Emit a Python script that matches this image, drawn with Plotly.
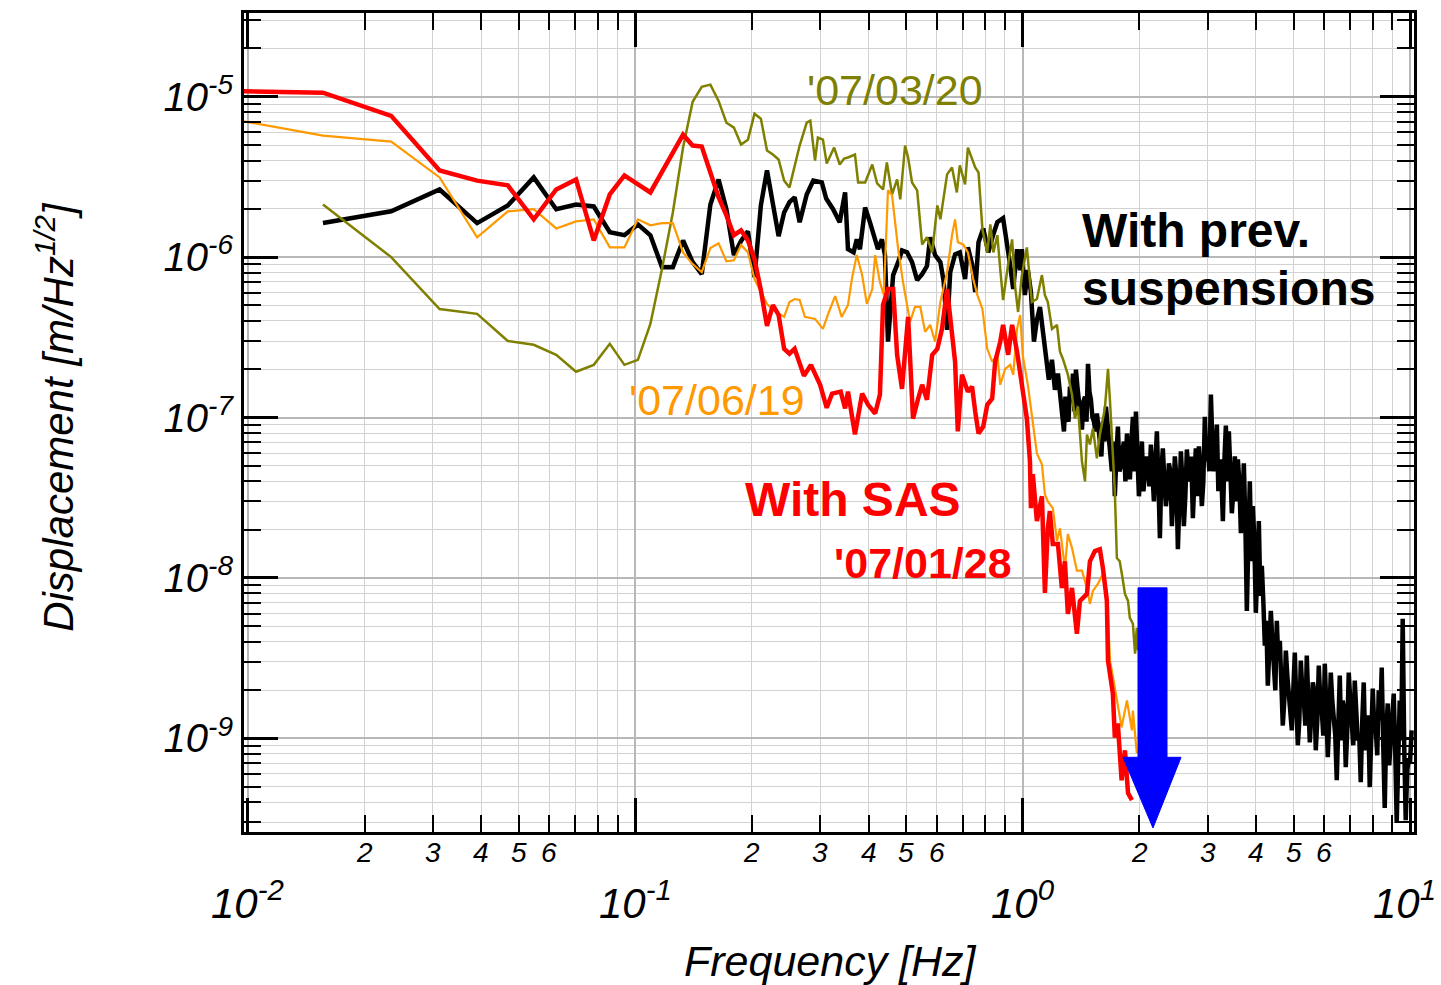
import math
import plotly.graph_objects as go

# ---------------- data ----------------
red_freq = [0.0078125, 0.015625, 0.0234375, 0.03125, 0.0390625, 0.046875, 0.0546875, 0.0625, 0.0703125, 0.078125,
            0.0859375, 0.09375, 0.109375, 0.1328125, 0.140625, 0.1484375, 0.15625, 0.1640625, 0.171875, 0.1796875,
            0.1875, 0.1953125, 0.203125, 0.2109375, 0.21875, 0.2265625, 0.234375, 0.2421875, 0.25, 0.2578125,
            0.2725, 0.284, 0.300, 0.312, 0.322, 0.339, 0.348, 0.354, 0.369, 0.385,
            0.399, 0.416, 0.428, 0.436, 0.449, 0.463, 0.474, 0.488, 0.506, 0.521,
            0.537, 0.550, 0.566, 0.584, 0.602, 0.619, 0.638, 0.657, 0.669, 0.680,
            0.697, 0.722, 0.740, 0.754, 0.769, 0.791, 0.810, 0.834, 0.849, 0.875,
            0.890, 0.917, 0.939, 0.967, 0.985, 1.000, 1.025, 1.044, 1.050, 1.062,
            1.088, 1.121, 1.141, 1.161, 1.175, 1.196, 1.233, 1.262, 1.285, 1.308,
            1.340, 1.380, 1.405, 1.465, 1.491, 1.536, 1.582, 1.611, 1.649, 1.660,
            1.709, 1.729, 1.760, 1.800, 1.836, 1.870, 1.914]
red_disp = [1.09e-5, 1.06e-5, 7.6e-6, 3.47e-6, 3.0e-6, 2.80e-6, 1.72e-6, 2.64e-6, 3.05e-6, 1.27e-6,
            2.46e-6, 3.23e-6, 2.53e-6, 5.80e-6, 4.96e-6, 4.89e-6, 3.37e-6, 2.36e-6, 1.82e-6, 1.37e-6,
            1.47e-6, 1.27e-6, 9.72e-7, 6.23e-7, 3.73e-7, 5.03e-7, 4.36e-7, 2.68e-7, 2.50e-7, 2.68e-7,
            1.82e-7, 2.13e-7, 1.60e-7, 1.15e-7, 1.41e-7, 1.45e-7, 1.14e-7, 1.45e-7, 7.84e-8, 1.41e-7,
            1.20e-7, 1.06e-7, 1.39e-7, 5.03e-7, 6.32e-7, 6.32e-7, 2.46e-7, 1.51e-7, 4.24e-7, 9.85e-8,
            1.31e-7, 1.60e-7, 1.29e-7, 2.46e-7, 2.68e-7, 3.57e-7, 6.32e-7, 3.42e-7, 2.23e-7, 8.19e-8,
            1.85e-7, 1.45e-7, 1.56e-7, 1.09e-7, 7.95e-8, 8.79e-8, 1.20e-7, 1.31e-7, 2.23e-7, 2.97e-7,
            3.78e-7, 2.46e-7, 3.78e-7, 2.57e-7, 1.85e-7, 1.39e-7, 9.85e-8, 5.33e-8, 2.72e-8, 4.43e-8,
            2.26e-8, 3.23e-8, 8.07e-9, 2.04e-8, 2.61e-8, 1.63e-8, 1.63e-8, 8.66e-9, 1.27e-8, 5.97e-9,
            8.66e-9, 4.49e-9, 7.19e-9, 7.95e-9, 1.27e-8, 1.47e-8, 1.51e-8, 1.15e-8, 7.19e-9, 3.05e-9,
            1.90e-9, 1.01e-9, 1.24e-9, 5.48e-10, 8.42e-10, 4.55e-10, 4.12e-10]

orange_freq = [0.0078125, 0.015625, 0.0234375, 0.03125, 0.0390625, 0.046875, 0.0546875, 0.0625, 0.0703125, 0.078125,
               0.0859375, 0.09375, 0.1015625, 0.109375, 0.1171875, 0.125, 0.1328125, 0.140625, 0.1484375, 0.15625,
               0.1640625, 0.171875, 0.1796875, 0.1875, 0.1953125, 0.203125, 0.2109375, 0.21875, 0.2265625, 0.234375,
               0.2421875, 0.25, 0.2578125, 0.265625, 0.274, 0.291, 0.305, 0.316, 0.328, 0.341,
               0.354, 0.363, 0.373, 0.385, 0.396, 0.409, 0.416, 0.428, 0.438, 0.449,
               0.460, 0.477, 0.491, 0.512, 0.527, 0.544, 0.560, 0.577, 0.594, 0.613,
               0.638, 0.657, 0.669, 0.680, 0.702, 0.722, 0.745, 0.764, 0.787, 0.810,
               0.834, 0.860, 0.875, 0.901, 0.928, 0.945, 0.967, 0.985, 1.000, 1.031,
               1.056, 1.088, 1.121, 1.141, 1.161, 1.196, 1.226, 1.248, 1.285, 1.308,
               1.340, 1.380, 1.422, 1.465, 1.491, 1.518, 1.563, 1.611, 1.649, 1.680,
               1.729, 1.760, 1.800, 1.858, 1.914, 1.925, 1.970]
orange_disp = [7.73e-6, 5.72e-6, 5.25e-6, 3.14e-6, 1.33e-6, 1.93e-6, 1.99e-6, 1.51e-6, 1.67e-6, 1.72e-6,
               1.15e-6, 1.15e-6, 1.72e-6, 1.58e-6, 1.63e-6, 1.63e-6, 1.07e-6, 9.05e-7, 8.07e-7, 1.14e-6,
               1.22e-6, 9.42e-7, 9.56e-7, 1.19e-6, 1.07e-6, 7.30e-7, 6.06e-7, 5.11e-7, 4.69e-7, 4.43e-7,
               4.24e-7, 5.25e-7, 5.48e-7, 5.41e-7, 4.24e-7, 4.12e-7, 3.57e-7, 4.55e-7, 5.72e-7, 4.24e-7,
               5.03e-7, 7.51e-7, 1.03e-6, 7.73e-7, 5.11e-7, 6.32e-7, 1.03e-6, 6.99e-7, 5.80e-7, 2.61e-6,
               2.43e-6, 1.12e-6, 6.99e-7, 3.94e-7, 4.89e-7, 4.89e-7, 3.42e-7, 3.78e-7, 2.97e-7, 5.25e-7,
               8.07e-7, 1.37e-6, 1.72e-6, 1.24e-6, 1.20e-6, 1.07e-6, 7.30e-7, 5.80e-7, 4.75e-7, 2.68e-7,
               2.23e-7, 2.46e-7, 1.60e-7, 2.01e-7, 2.13e-7, 1.85e-7, 3.57e-7, 4.36e-7, 2.46e-7, 1.60e-7,
               1.04e-7, 5.97e-8, 5.11e-8, 3.32e-8, 3.00e-8, 2.72e-8, 1.70e-8, 2.04e-8, 1.15e-8, 1.88e-8,
               1.54e-8, 1.11e-8, 1.11e-8, 8.66e-9, 6.89e-9, 8.30e-9, 9.17e-9, 1.06e-8, 8.30e-9, 3.05e-9,
               2.07e-9, 1.65e-9, 1.17e-9, 1.72e-9, 1.12e-9, 1.49e-9, 8.07e-10]

olive_freq = [0.015625, 0.0234375, 0.03125, 0.0390625, 0.046875, 0.0546875, 0.0625, 0.0703125, 0.078125, 0.0859375,
              0.09375, 0.1015625, 0.109375, 0.1171875, 0.125, 0.1328125, 0.140625, 0.1484375, 0.15625, 0.1640625,
              0.171875, 0.1796875, 0.1875, 0.1953125, 0.203125, 0.2109375, 0.21875, 0.2265625, 0.234375, 0.2421875,
              0.25, 0.2578125, 0.265625, 0.277, 0.283, 0.291, 0.296, 0.305, 0.312, 0.326,
              0.337, 0.346, 0.354, 0.369, 0.376, 0.392, 0.409, 0.421, 0.436, 0.446,
              0.460, 0.474, 0.483, 0.497, 0.506, 0.518, 0.534, 0.550, 0.566, 0.584,
              0.602, 0.613, 0.638, 0.657, 0.676, 0.688, 0.710, 0.722, 0.740, 0.754,
              0.769, 0.787, 0.810, 0.825, 0.840, 0.860, 0.875, 0.890, 0.917, 0.939,
              0.956, 0.973, 0.995, 1.025, 1.056, 1.088, 1.121, 1.141, 1.161, 1.190,
              1.226, 1.248, 1.270, 1.308, 1.340, 1.364, 1.389, 1.422, 1.448, 1.465,
              1.491, 1.518, 1.554, 1.582, 1.630, 1.660, 1.680, 1.700, 1.729, 1.750,
              1.780, 1.810, 1.836, 1.870, 1.890, 1.925, 1.950, 1.970, 1.985]
olive_disp = [2.13e-6, 1.00e-6, 4.75e-7, 4.43e-7, 3.00e-7, 2.84e-7, 2.46e-7, 1.93e-7, 2.13e-7, 2.88e-7,
              2.13e-7, 2.29e-7, 3.83e-7, 8.42e-7, 1.90e-6, 4.82e-6, 9.30e-6, 1.154e-5, 1.19e-5, 9.42e-6,
              6.89e-6, 6.42e-6, 5.03e-6, 5.40e-6, 7.84e-6, 7.30e-6, 4.62e-6, 4.36e-6, 4.06e-6, 3.00e-6,
              2.72e-6, 3.62e-6, 4.96e-6, 6.89e-6, 7.09e-6, 4.00e-6, 5.56e-6, 5.40e-6, 3.83e-6, 4.82e-6,
              3.78e-6, 4.12e-6, 4.18e-6, 4.36e-6, 2.92e-6, 2.92e-6, 3.78e-6, 2.88e-6, 2.64e-6, 3.89e-6,
              2.46e-6, 3.05e-6, 2.29e-6, 4.96e-6, 4.18e-6, 2.92e-6, 2.61e-6, 1.20e-6, 1.33e-6, 1.07e-6,
              2.10e-6, 1.72e-6, 3.28e-6, 3.62e-6, 2.53e-6, 3.73e-6, 2.84e-6, 4.82e-6, 4.06e-6, 3.62e-6,
              3.37e-6, 1.49e-6, 1.07e-6, 1.60e-6, 1.07e-6, 1.37e-6, 8.42e-7, 5.40e-7, 9.05e-7, 1.29e-6,
              6.51e-7, 4.55e-7, 7.73e-7, 1.15e-6, 5.25e-7, 5.48e-7, 7.73e-7, 5.80e-7, 5.25e-7, 3.57e-7,
              3.78e-7, 2.57e-7, 2.32e-7, 1.85e-7, 1.39e-7, 9.85e-8, 1.17e-7, 5.33e-8, 4.00e-8, 7.84e-8,
              6.79e-8, 8.54e-8, 5.56e-8, 7.84e-8, 1.14e-7, 2.01e-7, 1.26e-7, 7.84e-8, 3.47e-8, 1.33e-8,
              1.27e-8, 1.00e-8, 7.95e-9, 7.19e-9, 5.64e-9, 5.18e-9, 3.37e-9, 4.89e-9, 3.52e-9]

black_freq = [0.015625, 0.0234375, 0.03125, 0.0390625, 0.046875, 0.0546875, 0.0625, 0.0703125, 0.078125, 0.0859375,
              0.09375, 0.1015625, 0.109375, 0.1171875, 0.125, 0.1328125, 0.140625, 0.1484375, 0.15625, 0.1640625,
              0.171875, 0.1796875, 0.1875, 0.1953125, 0.203125, 0.2109375, 0.21875, 0.2265625, 0.234375, 0.2421875,
              0.25, 0.2578125, 0.265625, 0.277, 0.288, 0.303, 0.311, 0.324, 0.337, 0.348,
              0.354, 0.366, 0.373, 0.380, 0.392, 0.404, 0.411, 0.423, 0.433, 0.441,
              0.449, 0.463, 0.477, 0.488, 0.503, 0.518, 0.534, 0.550, 0.566, 0.577,
              0.594, 0.613, 0.625, 0.638, 0.650, 0.669, 0.688, 0.710, 0.722, 0.740,
              0.754, 0.769, 0.791, 0.815, 0.840, 0.860, 0.890, 0.912, 0.928, 0.945,
              0.967, 0.985, 0.995,
              1.013, 1.031, 1.050, 1.069, 1.088, 1.108, 1.128, 1.148, 1.168, 1.190,
              1.211, 1.233, 1.255, 1.278, 1.301, 1.324, 1.348, 1.372, 1.397, 1.422,
              1.448, 1.474, 1.500, 1.527, 1.554, 1.582, 1.611, 1.640, 1.669, 1.699,
              1.729, 1.761, 1.792, 1.825, 1.858, 1.891, 1.925, 1.960, 1.995, 2.031,
              2.067, 2.104, 2.142, 2.181, 2.220, 2.260, 2.300, 2.342, 2.384, 2.427,
              2.470, 2.515, 2.560, 2.606, 2.653, 2.700, 2.749, 2.798, 2.849, 2.900,
              2.952, 3.005, 3.060, 3.115, 3.171, 3.228, 3.286, 3.345, 3.405, 3.466,
              3.529, 3.592, 3.657, 3.722, 3.789, 3.857, 3.927, 3.997, 4.069, 4.142,
              4.217, 4.292, 4.370, 4.448, 4.528, 4.610, 4.692, 4.777, 4.863, 4.950,
              5.039, 5.130, 5.222, 5.316, 5.411, 5.509, 5.608, 5.708, 5.811, 5.915,
              6.022, 6.130, 6.240, 6.352, 6.466, 6.583, 6.701, 6.821, 6.944, 7.069,
              7.196, 7.325, 7.457, 7.591, 7.727, 7.866, 8.008, 8.152, 8.298, 8.447,
              8.599, 8.754, 8.911, 9.071, 9.234, 9.400, 9.569, 9.741, 9.916, 10.09]
black_disp = [1.63e-6, 1.93e-6, 2.64e-6, 1.63e-6, 2.10e-6, 3.14e-6, 1.99e-6, 2.13e-6, 2.07e-6, 1.43e-6,
              1.37e-6, 1.60e-6, 1.37e-6, 8.66e-7, 8.66e-7, 1.27e-6, 9.30e-7, 7.84e-7, 2.13e-6, 3.05e-6,
              1.99e-6, 1.03e-6, 1.26e-6, 1.45e-6, 7.51e-7, 2.10e-6, 3.47e-6, 2.20e-6, 1.35e-6, 1.90e-6,
              2.20e-6, 2.36e-6, 1.65e-6, 2.46e-6, 3.00e-6, 2.92e-6, 2.32e-6, 1.99e-6, 1.65e-6, 2.53e-6,
              1.12e-6, 1.07e-6, 1.29e-6, 1.12e-6, 2.04e-6, 1.63e-6, 1.43e-6, 1.12e-6, 1.29e-6, 1.03e-6,
              2.97e-7, 7.73e-7, 9.30e-7, 1.10e-6, 1.07e-6, 9.30e-7, 7.19e-7, 7.84e-7, 8.79e-7, 1.33e-6,
              1.03e-6, 9.30e-7, 7.09e-7, 3.52e-7, 8.07e-7, 1.04e-6, 1.07e-6, 7.30e-7, 1.15e-6, 9.05e-7,
              6.06e-7, 1.24e-6, 1.51e-6, 1.07e-6, 1.39e-6, 1.65e-6, 1.75e-6, 1.24e-6, 8.92e-7, 6.32e-7,
              1.12e-6, 8.30e-7, 1.12e-6,
              5.80e-7, 8.30e-7, 6.06e-7, 2.97e-7, 4.06e-7, 4.89e-7, 3.42e-7, 2.39e-7, 1.72e-7, 2.29e-7,
              1.49e-7, 1.88e-7, 1.26e-7, 8.19e-8, 1.01e-7, 1.56e-7, 1.88e-7, 1.99e-7, 1.26e-7, 8.42e-8,
              1.35e-7, 2.16e-7, 1.29e-7, 9.42e-8, 1.06e-7, 7.09e-8, 9.42e-8, 1.17e-7, 7.62e-8, 4.62e-8,
              3.23e-8, 8.79e-8, 4.96e-8, 7.09e-8, 7.95e-8, 4.12e-8, 1.01e-7, 1.09e-7, 3.23e-8, 7.09e-8,
              4.62e-8, 5.18e-8, 6.79e-8, 3.00e-8, 8.19e-8, 1.77e-8, 6.42e-8, 2.80e-8, 5.18e-8, 2.10e-8,
              5.72e-8, 1.51e-8, 6.15e-8, 2.10e-8, 6.32e-8, 4.00e-8, 2.36e-8, 6.42e-8, 6.61e-8, 2.80e-8,
              1.01e-7, 6.42e-8, 1.39e-7, 4.62e-8, 9.05e-8, 5.48e-8, 2.26e-8, 8.92e-8, 8.19e-8, 2.53e-8,
              5.72e-8, 5.48e-8, 1.90e-8, 5.18e-8, 6.23e-9, 4.00e-8, 2.80e-8, 6.06e-9, 2.26e-8, 1.19e-8,
              3.78e-9, 2.13e-9, 6.23e-9, 2.72e-9, 5.40e-9, 4.06e-9, 1.20e-9, 3.52e-9, 1.99e-9, 1.12e-9,
              3.42e-9, 9.05e-10, 3.05e-9, 1.72e-9, 3.28e-9, 9.42e-10, 2.23e-9, 8.42e-10, 2.84e-9, 1.49e-9,
              2.92e-9, 7.62e-10, 2.57e-9, 1.29e-9, 5.48e-10, 2.46e-9, 1.72e-9, 6.61e-10, 2.57e-9, 1.29e-9,
              2.29e-9, 9.72e-10, 5.33e-10, 2.23e-9, 1.04e-9, 4.96e-10, 2.04e-9, 1.12e-9, 1.99e-9, 2.76e-9,
              3.68e-10, 1.65e-9, 9.72e-10, 1.90e-9, 2.97e-10, 1.72e-9, 5.56e-9, 3.09e-10, 7.30e-10, 1.12e-9]

# further samples read from the dense noisy part of the black spectrum (1.2 - 10 Hz)
black_freq_dense = [1.266, 1.289, 1.313, 1.336, 1.360, 1.384, 1.410, 1.435, 1.461, 1.487,
                    1.513, 1.541, 1.568, 1.596, 1.625, 1.655, 1.684, 1.714, 1.745, 1.777,
                    1.808, 1.841, 1.875, 1.908, 1.942, 1.978, 2.013, 2.049, 2.086, 2.123,
                    2.161, 2.201, 2.240, 2.280, 2.321, 2.363, 2.405, 2.449, 2.492, 2.538,
                    2.583, 2.629, 2.677, 2.724, 2.774, 2.823, 2.875, 2.926, 2.978, 3.032,
                    3.087, 3.143, 3.199, 3.257, 3.315, 3.375, 3.436, 3.497, 3.561, 3.624,
                    3.690, 3.755, 3.823, 3.892, 3.962, 4.033, 4.105, 4.179, 4.255, 4.330,
                    4.409, 4.488, 4.569, 4.651, 4.734, 4.820, 4.907, 4.994, 5.084, 5.176,
                    5.269, 5.364, 5.459, 5.558, 5.658, 5.759, 5.863, 5.968, 6.076, 6.185,
                    6.296, 6.409, 6.524, 6.642, 6.761, 6.882, 7.006, 7.132, 7.260, 7.391,
                    7.524, 7.659, 7.796, 7.936, 8.080, 8.225, 8.372, 8.523, 8.676, 8.832,
                    8.991, 9.152, 9.317, 9.484, 9.655, 9.828, 10.00]
black_disp_dense = [1.09e-7, 1.35e-7, 9.42e-8, 1.26e-7, 1.09e-7, 1.56e-7, 1.01e-7, 1.26e-7, 9.42e-8, 1.45e-7,
                    1.01e-7, 8.19e-8, 8.79e-8, 5.72e-8, 7.09e-8, 8.79e-8, 5.33e-8, 7.09e-8, 5.72e-8, 4.62e-8,
                    6.15e-8, 4.00e-8, 5.72e-8, 7.09e-8, 4.62e-8, 5.72e-8, 4.62e-8, 3.47e-8, 5.72e-8, 3.73e-8,
                    4.62e-8, 5.33e-8, 4.00e-8, 4.62e-8, 4.00e-8, 3.47e-8, 4.62e-8, 3.23e-8, 4.30e-8, 3.00e-8,
                    4.00e-8, 3.23e-8, 4.62e-8, 5.72e-8, 4.00e-8, 3.23e-8, 4.62e-8, 4.00e-8, 5.33e-8, 4.62e-8,
                    7.09e-8, 5.72e-8, 3.47e-8, 4.30e-8, 5.33e-8, 4.00e-8, 4.62e-8, 3.47e-8, 3.00e-8, 4.00e-8,
                    2.80e-8, 2.26e-8, 1.70e-8, 1.27e-8, 1.70e-8, 1.11e-8, 7.73e-9, 7.19e-9, 5.40e-9, 3.52e-9,
                    4.06e-9, 1.99e-9, 3.05e-9, 2.29e-9, 1.72e-9, 2.46e-9, 1.49e-9, 1.99e-9, 1.72e-9, 1.29e-9,
                    1.99e-9, 1.20e-9, 1.72e-9, 1.39e-9, 1.99e-9, 1.29e-9, 1.72e-9, 1.04e-9, 1.60e-9, 1.29e-9,
                    1.72e-9, 1.04e-9, 1.39e-9, 9.72e-10, 1.49e-9, 1.12e-9, 1.72e-9, 9.05e-10, 1.39e-9, 1.04e-9,
                    1.29e-9, 8.42e-10, 1.39e-9, 9.72e-10, 1.20e-9, 7.84e-10, 1.29e-9, 9.05e-10, 1.12e-9, 6.79e-10,
                    1.29e-9, 8.42e-10, 7.30e-10, 9.72e-10, 9.05e-10, 6.32e-10, 7.30e-10]

# axis ticks
x_decades = [0.01, 0.1, 1, 10]
x_decade_labels = ["10<sup>-2</sup>", "10<sup>-1</sup>", "10<sup>0</sup>", "10<sup>1</sup>"]
x_minor_digits = [2, 3, 4, 5, 6, 7, 8, 9]
x_minor_label_digits = [2, 3, 4, 5, 6]
y_decades = [1e-5, 1e-6, 1e-7, 1e-8, 1e-9]
y_decade_labels = ["10<sup>-5</sup>", "10<sup>-6</sup>", "10<sup>-7</sup>", "10<sup>-8</sup>", "10<sup>-9</sup>"]
y_minor_decades = [1e-10, 1e-9, 1e-8, 1e-7, 1e-6, 1e-5]

# merge the two sets of black samples in frequency order
black_pairs = sorted(zip(black_freq + black_freq_dense, black_disp + black_disp_dense))
black_x = [p[0] for p in black_pairs]
black_y = [p[1] for p in black_pairs]

# ---------------- figure ----------------
FONT = "Liberation Sans, Arial, Helvetica, sans-serif"
fig = go.Figure()
fig.add_trace(go.Scatter(x=black_x, y=black_y, mode="lines",
                         line=dict(color="#000000", width=4.5), hoverinfo="skip"))
fig.add_trace(go.Scatter(x=olive_freq, y=olive_disp, mode="lines",
                         line=dict(color="#7f8000", width=2.5), hoverinfo="skip"))
fig.add_trace(go.Scatter(x=orange_freq, y=orange_disp, mode="lines",
                         line=dict(color="#ff9900", width=2.2), hoverinfo="skip"))
fig.add_trace(go.Scatter(x=red_freq, y=red_disp, mode="lines",
                         line=dict(color="#ff0000", width=4.5), hoverinfo="skip"))

x_minor = [m * d for d in x_decades[:-1] for m in x_minor_digits]
y_minor = [m * d for d in y_minor_decades for m in x_minor_digits]

axis_common = dict(
    type="log", ticks="inside", ticklen=34, tickwidth=2.5, tickcolor="black",
    showgrid=True, gridcolor="#b8b8b8", gridwidth=2.2,
    showline=True, linecolor="black", linewidth=3, mirror="allticks", zeroline=False,
    minor=dict(tickmode="array", ticks="inside", ticklen=17, tickwidth=2, tickcolor="black",
               showgrid=True, gridcolor="#d2d2d2", gridwidth=1.3),
)
fig.update_xaxes(range=[-2.01, 1.01], tickmode="array", tickvals=x_decades,
                 showticklabels=False, **axis_common)
fig.update_xaxes(minor_tickvals=x_minor)
fig.update_yaxes(range=[-9.584, -4.478], tickmode="array", tickvals=y_decades, ticktext=y_decade_labels,
                 tickfont=dict(family=FONT, size=40, style="italic", color="black"), **axis_common)
fig.update_yaxes(minor_tickvals=y_minor)

ann = []
for i, (v, t) in enumerate(zip(x_decades, x_decade_labels)):
    ann.append(dict(x=math.log10(v), xref="x", y=-0.083, yref="paper", text=t, showarrow=False,
                    xanchor="center", yanchor="middle", xshift=(-6 if i == len(x_decades) - 1 else 0),
                    font=dict(family=FONT, size=42, style="italic", color="black")))
for d in x_decades[:-1]:
    for m in x_minor_label_digits:
        ann.append(dict(x=math.log10(m * d), xref="x", y=-0.0255, yref="paper", text=str(m), showarrow=False,
                        xanchor="center", yanchor="middle",
                        font=dict(family=FONT, size=28, style="italic", color="black")))
# axis titles
ann.append(dict(x=0.5017, y=-0.158, xref="paper", yref="paper", text="Frequency [Hz]", showarrow=False,
                xanchor="center", yanchor="middle",
                font=dict(family=FONT, size=43, style="italic", color="black")))
ann.append(dict(x=-0.1615, y=0.507, xref="paper", yref="paper", text="Displacement [m/Hz<sup>1/2</sup>]",
                showarrow=False, textangle=-90, xanchor="center", yanchor="middle",
                font=dict(family=FONT, size=42, style="italic", color="black")))
# series labels
labels = [
    ("'07/03/20", 0.4795, 0.9063, "#7f8000", 43, False),
    ("'07/06/19", 0.3274, 0.5280, "#ff9900", 43, False),
    ("With SAS", 0.4265, 0.4063, "#ff0000", 48, True),
    ("'07/01/28", 0.5026, 0.3285, "#ff0000", 43, True),
    ("With prev.", 0.7145, 0.7348, "#000000", 48, True),
    ("suspensions", 0.7145, 0.6642, "#000000", 48, True),
]
for txt, lx, ly, col, sz, bold in labels:
    ann.append(dict(x=lx, y=ly, xref="paper", yref="paper", text=("<b>%s</b>" % txt) if bold else txt,
                    showarrow=False, xanchor="left", yanchor="middle",
                    font=dict(family=FONT, size=sz, color=col)))

# blue arrow (paper coordinates)
arrow_path = ("M 0.7641,0.2981 L 0.7889,0.2981 L 0.7889,0.0912 L 0.8009,0.0912 "
              "L 0.7769,0.0049 L 0.7513,0.0912 L 0.7641,0.0912 Z")
fig.add_shape(type="path", path=arrow_path, xref="paper", yref="paper",
              fillcolor="#0000ff", line=dict(color="#0000ff", width=1), layer="above")

fig.update_layout(
    width=1441, height=985,
    margin=dict(l=244, r=27, t=10, b=153, pad=0),
    paper_bgcolor="white", plot_bgcolor="white",
    showlegend=False, annotations=ann,
    font=dict(family=FONT, color="black"),
)

fig.write_html("out.html", config={"displayModeBar": False},
               post_script="document.body.style.margin='0px';document.body.style.overflow='hidden';")
